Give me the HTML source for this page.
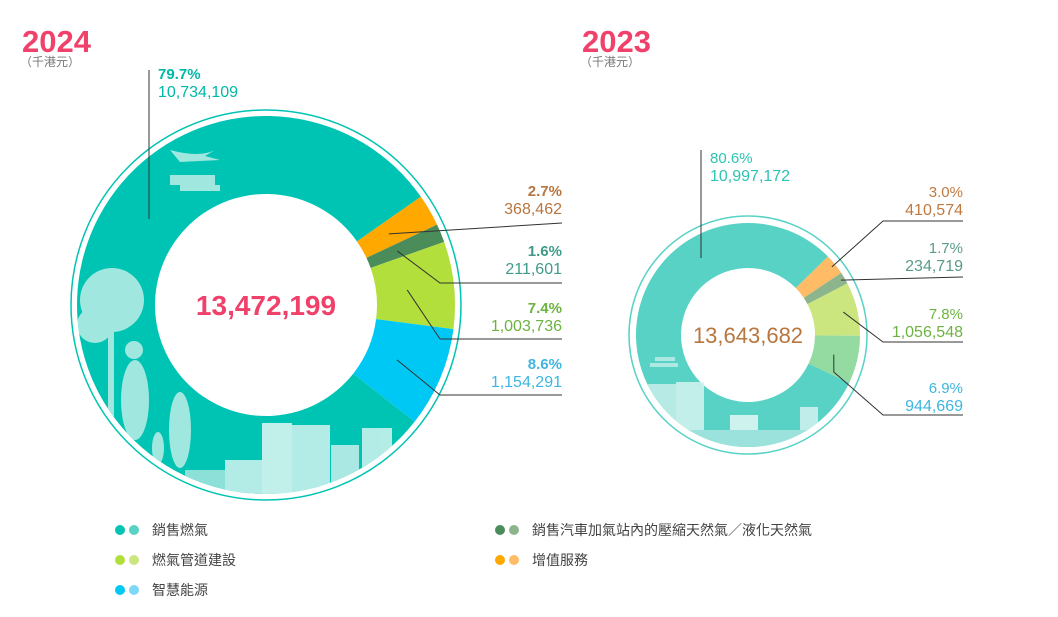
<!DOCTYPE html>
<html><head><meta charset="utf-8">
<style>
html,body{margin:0;padding:0;background:#fff;}
body{width:1058px;height:612px;overflow:hidden;font-family:"Liberation Sans","Noto Sans CJK TC",sans-serif;}
</style></head>
<body>
<svg id="chart" width="1058" height="612" viewBox="0 0 1058 612" xmlns="http://www.w3.org/2000/svg" font-family="Liberation Sans, Noto Sans CJK TC, sans-serif">
<defs>
<clipPath id="clip24"><circle cx="266" cy="305" r="189"/></clipPath>
<clipPath id="clip23"><circle cx="748" cy="335" r="112"/></clipPath>
</defs>
<text x="22" y="52" font-size="31" font-weight="bold" fill="#f0416b">2024</text>
<text x="20" y="66" font-size="12" fill="#777">（千港元）</text>
<text x="582" y="52" font-size="31" font-weight="bold" fill="#f0416b">2023</text>
<text x="580" y="66" font-size="12" fill="#777">（千港元）</text>
<g id="d24"></g>
<g id="d23"></g>
<g id="legend"></g>
</svg>
<script>
const categories=["銷售燃氣","增值服務","銷售汽車加氣站內的壓縮天然氣／液化天然氣","燃氣管道建設","智慧能源"];
const values2024=[10734109,368462,211601,1003736,1154291];
const pct2024=["79.7%","2.7%","1.6%","7.4%","8.6%"];
const values2023=[10997172,410574,234719,1056548,944669];
const pct2023=["80.6%","3.0%","1.7%","7.8%","6.9%"];
const totals=["13,472,199","13,643,682"];

const NS="http://www.w3.org/2000/svg";
function mk(tag,attrs,parent){const e=document.createElementNS(NS,tag);for(const k in attrs)e.setAttribute(k,attrs[k]);parent.appendChild(e);return e;}
function pt(cx,cy,r,a){const t=(a-90)*Math.PI/180;return [cx+r*Math.cos(t),cy+r*Math.sin(t)];}
function arc(cx,cy,r0,r1,a0,a1){const p1=pt(cx,cy,r1,a0),p2=pt(cx,cy,r1,a1),p3=pt(cx,cy,r0,a1),p4=pt(cx,cy,r0,a0);const lg=(a1-a0)>180?1:0;
return `M${p1[0]},${p1[1]}A${r1},${r1} 0 ${lg} 1 ${p2[0]},${p2[1]}L${p3[0]},${p3[1]}A${r0},${r0} 0 ${lg} 0 ${p4[0]},${p4[1]}Z`;}
function fmt(v){return v.toLocaleString('en-US');}

function donut(g,cfg,vals,pcts){
  const total=vals.reduce((a,b)=>a+b,0);
  mk('circle',{cx:cfg.cx,cy:cfg.cy,r:cfg.ring,fill:'none',stroke:cfg.colors[0],'stroke-width':1.5},g);
  let a=cfg.start;
  const mids=[];
  const order=[1,2,3,4];
  order.forEach(i=>{
    const span=vals[i]/total*360;
    const p=mk('path',{d:arc(cfg.cx,cfg.cy,cfg.r0,cfg.r1,a,a+span),fill:cfg.colors[i]},g);
    
    
    mids[i]=a+span/2;a+=span;
  });
  const tp=mk('path',{d:arc(cfg.cx,cfg.cy,cfg.r0,cfg.r1,a,cfg.start+360),fill:cfg.colors[0]},g);
  
  
  const dg=mk('g',{'clip-path':'url(#'+cfg.clip+')',fill:'#bdeee8',opacity:0.85},g);
  cfg.deco(dg);
  const ct=mk('text',{x:cfg.cx,y:cfg.cy+cfg.cfs*0.36,'text-anchor':'middle','font-size':cfg.cfs,'font-weight':cfg.cbold?'bold':'normal',fill:cfg.ccol},g);
  ct.textContent=cfg.total;
  
  
  const L=cfg.mainLabel;
  mk('line',{x1:L.lx,y1:L.ly0,x2:L.lx,y2:L.ly1,stroke:'#333','stroke-width':1},g);
  const m1=mk('text',{x:L.tx,y:L.ty,'font-size':15,'font-weight':cfg.pbold?'bold':'normal',fill:cfg.tcol[0]},g);m1.textContent=pcts[0];
  
  
  const m2=mk('text',{x:L.tx,y:L.ty+18,'font-size':16,fill:cfg.tcol[0]},g);m2.textContent=fmt(vals[0]);
  
  
  order.forEach((i,k)=>{
    const lab=cfg.labels[k];
    const s=pt(cfg.cx,cfg.cy,lab.lr||cfg.lr,mids[i]);
    let pts=[s];
    if(lab.mid) pts=pts.concat(lab.mid(s));
    pts.push([cfg.rx,lab.ly]);
    mk('polyline',{points:pts.map(p=>p.join(',')).join(' '),fill:'none',stroke:'#333','stroke-width':1},g);
    const t1=mk('text',{x:cfg.rx,y:lab.ty,'text-anchor':'end','font-size':15,'font-weight':cfg.pbold?'bold':'normal',fill:cfg.tcol[i]},g);t1.textContent=pcts[i];
    
    
    const t2=mk('text',{x:cfg.rx,y:lab.ty+18,'text-anchor':'end','font-size':16,fill:cfg.tcol[i]},g);t2.textContent=fmt(vals[i]);
    
    
  });
}

function deco24(g){
  const r=(x,y,w,h,f)=>mk('rect',{x,y,width:w,height:h,fill:f||'#bdeee8'},g);
  mk('circle',{cx:112,cy:300,r:32},g);mk('circle',{cx:95,cy:325,r:18},g);
  r(108,320,6,130);
  mk('ellipse',{cx:135,cy:400,rx:14,ry:40},g);mk('circle',{cx:134,cy:350,r:9},g);
  mk('ellipse',{cx:180,cy:430,rx:11,ry:38},g);mk('circle',{cx:181,cy:408,r:7},g);
  mk('ellipse',{cx:158,cy:448,rx:6,ry:16},g);
  r(225,460,40,45,'#d3f3ef');r(262,423,30,80,'#e3f8f5');r(292,425,38,80,'#d3f3ef');r(331,445,28,60,'#c8f0eb');r(362,428,30,70,'#d3f3ef');
  r(185,470,40,40,'#a6e6de');
  mk('path',{d:'M170 150 Q200 158 215 150 L205 156 L220 160 L180 162Z'},g);
  r(170,175,45,10);r(180,185,40,6);
}
function deco23(g){
  const r=(x,y,w,h,f)=>mk('rect',{x,y,width:w,height:h,fill:f||'#bdeee8'},g);
  r(648,384,28,70,'#c8efe9');r(676,382,28,70,'#d6f5f1');r(730,415,28,50,'#e3f8f5');r(800,407,18,40,'#d3f3ef');
  r(650,430,200,40,'#a6e6de');
  r(655,357,20,4);r(650,363,28,4);
}

donut(document.getElementById('d24'),{year:'2024',cx:266,cy:305,r0:111,r1:189,ring:195,start:55,lr:142,rx:562,
  colors:['#00c4b3','#ffa800','#4a8c5a','#b2df3b','#00c8f4'],
  tcol:['#00b8a6','#b8763f','#3f9a8a','#6cb33f','#3db6e0'],
  total:totals[0],cfs:28,cbold:true,ccol:'#f0416b',pbold:true,clip:'clip24',deco:deco24,
  mainLabel:{lx:149,ly0:70,ly1:219,tx:158,ty:79},
  labels:[{ty:196,ly:223,mid:s=>[]},{ty:256,ly:283,mid:s=>[[440,283]]},{ty:313,ly:339,mid:s=>[[440,339]]},{ty:369,ly:395,mid:s=>[[440,395]]}]
},values2024,pct2024);

donut(document.getElementById('d23'),{year:'2023',cx:748,cy:335,r0:67,r1:112,ring:119,start:45.5,lr:100,rx:963,
  colors:['#57d2c5','#ffbb66','#8cb58e','#cbe67f','#93dba0'],
  tcol:['#2cc4b4','#c07a40','#5a9a8a','#6cb33f','#3db6e0'],
  total:totals[1],cfs:22,cbold:false,ccol:'#b8763f',pbold:false,clip:'clip23',deco:deco23,
  mainLabel:{lx:701,ly0:150,ly1:258,tx:710,ty:163},
  labels:[{ty:197,ly:221,lr:108,mid:s=>[[883,221]]},{ty:253,ly:277,lr:108,mid:s=>[[963,277]]},{ty:319,ly:342,lr:98,mid:s=>[[883,342]]},{ty:393,ly:415,lr:88,mid:s=>[[s[0],372],[883,415]]}]
},values2023,pct2023);

const legDark=['#00c4b3','#ffa800','#4a8c5a','#b2df3b','#00c8f4'];
const legLight=['#57d2c5','#ffbb66','#8cb58e','#cbe67f','#7ed8f7'];
const legPos=[[120,530],[500,560],[500,530],[120,560],[120,590]];
const lg=document.getElementById('legend');
categories.forEach((c,i)=>{
  const [x,y]=legPos[i];
  const g=mk('g',{},lg);
  
  
  mk('circle',{cx:x,cy:y,r:5,fill:legDark[i]},g);
  mk('circle',{cx:x+14,cy:y,r:5,fill:legLight[i]},g);
  const t=mk('text',{x:x+32,y:y+5,'font-size':14,fill:'#444'},g);t.textContent=c;
});
</script>
</body></html>
